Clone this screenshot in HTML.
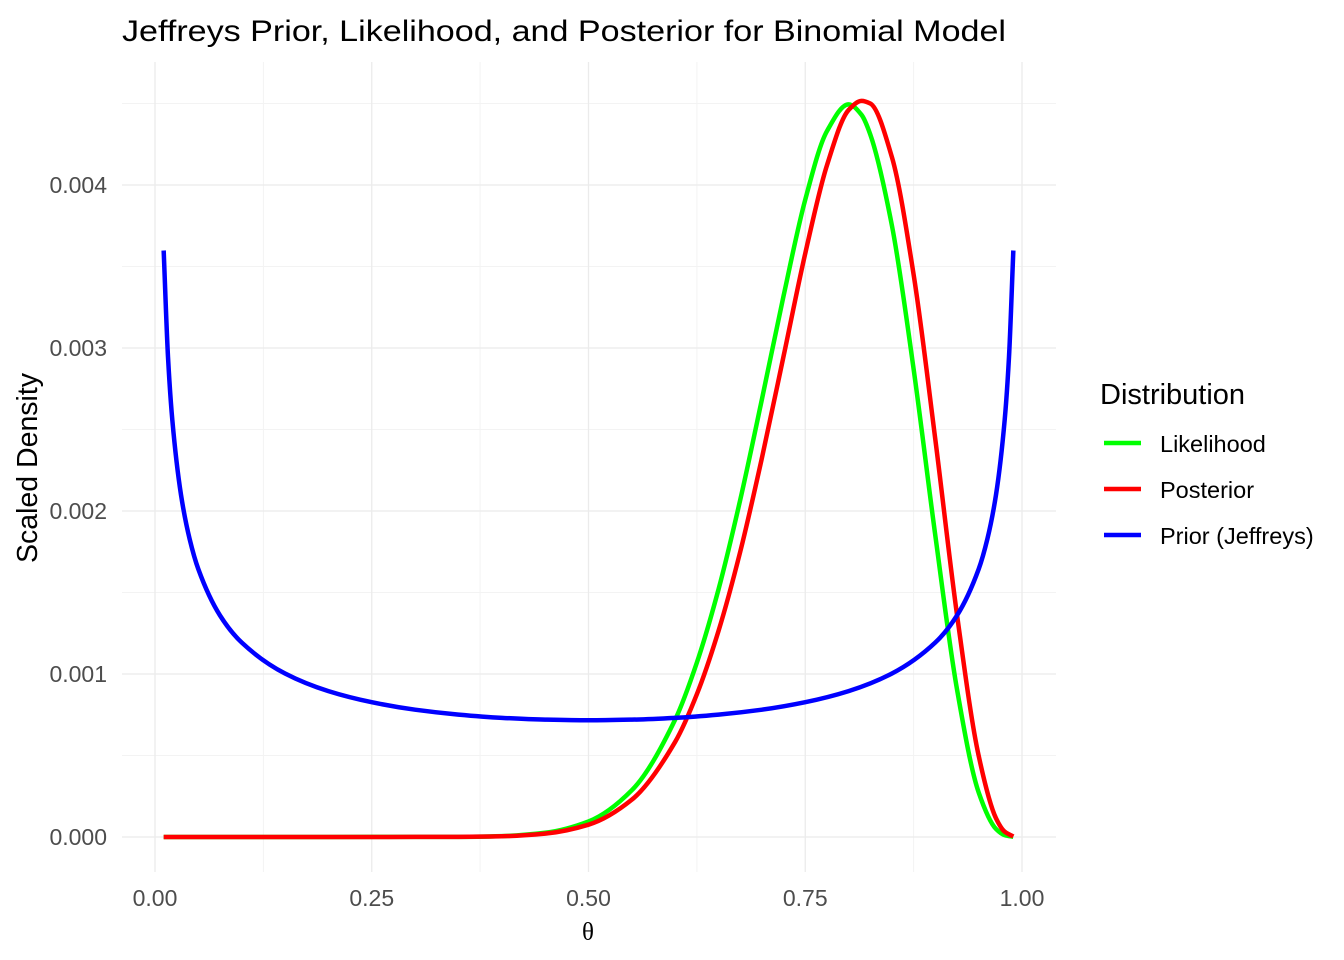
<!DOCTYPE html>
<html><head><meta charset="utf-8"><style>
html,body{margin:0;padding:0;background:#fff;}
svg{display:block;font-family:"Liberation Sans",Arial,sans-serif;}
</style></head><body>
<svg id="chart" width="1344" height="960" viewBox="0 0 1344 960">
<text x="122" y="41" font-size="30" fill="#000" textLength="884" lengthAdjust="spacingAndGlyphs">Jeffreys Prior, Likelihood, and Posterior for Binomial Model</text>
<g id="grid"></g>
<g id="series"></g>
<g id="axes"></g>
<text transform="translate(37,468) rotate(-90)" text-anchor="middle" font-size="28.5" fill="#000">Scaled Density</text>
<text x="588" y="940" text-anchor="middle" font-size="25" fill="#000" font-family="'Liberation Serif',serif">θ</text>
<g>
<text x="1100" y="404" font-size="29" fill="#000">Distribution</text>
<g><line x1="1104" y1="443" x2="1141" y2="443" stroke="#00ff00" stroke-width="4.5"/><text x="1160" y="452" font-size="23.5" fill="#000">Likelihood</text></g>
<g><line x1="1104" y1="489" x2="1141" y2="489" stroke="#ff0000" stroke-width="4.5"/><text x="1160" y="498" font-size="23.5" fill="#000">Posterior</text></g>
<g><line x1="1104" y1="535" x2="1141" y2="535" stroke="#0000ff" stroke-width="4.5"/><text x="1160" y="544" font-size="23.5" fill="#000">Prior (Jeffreys)</text></g>
</g>
</svg>
<script>
const xTicks = [0, 0.25, 0.5, 0.75, 1];
const xTickLabels = ["0.00", "0.25", "0.50", "0.75", "1.00"];
const yTicks = [0, 0.001, 0.002, 0.003, 0.004];
const yTickLabels = ["0.000", "0.001", "0.002", "0.003", "0.004"];

const thetaLP = [0.01,0.1,0.2,0.3,0.35,0.4,0.45,0.5,0.55,0.6,0.625,0.65,0.675,0.7,0.725,0.75,0.775,0.8,0.815,0.825,0.85,0.875,0.9,0.925,0.95,0.97,0.98,0.99];
const likelihood = [0,0,0,0.000001,0.000001,0.0000056,0.0000258,0.0000952,0.000287,0.000721,0.00107,0.00152,0.002068,0.002685,0.00332,0.00391,0.00433,0.004495,0.00443,0.00431,0.00375,0.00287,0.00185,0.000907,0.000274,0.0000497,0.0000116,0.000001];
const posterior = [0,0,0,0.0000005,0.000001,0.0000045,0.0000206,0.0000755,0.000229,0.000584,0.000876,0.001265,0.00175,0.002325,0.00295,0.00358,0.00412,0.00446,0.004516,0.0045,0.00417,0.00345,0.00244,0.001365,0.000499,0.000115,0.0000327,0.0000034];

const thetaPrior = [0.01,0.015,0.02,0.03,0.04,0.05,0.075,0.1,0.15,0.2,0.25,0.3,0.35,0.4,0.45,0.5,0.55,0.6,0.65,0.7,0.75,0.8,0.85,0.9,0.925,0.95,0.96,0.97,0.98,0.985,0.99];
const prior = [0.003598,0.002945,0.002557,0.002099,0.001827,0.001643,0.001359,0.001193,0.001003,0.000895,0.000827,0.000781,0.000751,0.000731,0.00072,0.000716,0.00072,0.000731,0.000751,0.000781,0.000827,0.000895,0.001003,0.001193,0.001359,0.001643,0.001827,0.002099,0.002557,0.002945,0.003598];

const X0 = 155, X1 = 1022, Y0 = 837, PER = 163000;
const PL = 122, PR = 1056, PT = 62, PB = 872;
function sx(v){ return X0 + v*(X1-X0); }
function sy(v){ return Y0 - v*PER; }
const NS = "http://www.w3.org/2000/svg";
function mk(tag, attrs, parent){ const e=document.createElementNS(NS,tag); for(const k in attrs) e.setAttribute(k,attrs[k]); parent.appendChild(e); return e; }

const grid = document.getElementById('grid');
const axes = document.getElementById('axes');
for (let i=0;i<xTicks.length-1;i++){
  const m=(xTicks[i]+xTicks[i+1])/2;
  const l=mk('line',{x1:sx(m),x2:sx(m),y1:PT,y2:PB,stroke:'#f3f3f3','stroke-width':1},grid);
  
  
}
for (let i=0;i<yTicks.length;i++){
  const m=yTicks[i]+0.0005;
  const l=mk('line',{x1:PL,x2:PR,y1:sy(m),y2:sy(m),stroke:'#f3f3f3','stroke-width':1},grid);
  
  
}
xTicks.forEach((t,i)=>{
  const l=mk('line',{x1:sx(t),x2:sx(t),y1:PT,y2:PB,stroke:'#ebebeb','stroke-width':1.3},grid);
  
  
  const tx=mk('text',{x:sx(t),y:906,'text-anchor':'middle','font-size':23,fill:'#4d4d4d'},axes);
  tx.textContent=xTickLabels[i];
  
  
});
yTicks.forEach((t,i)=>{
  const l=mk('line',{x1:PL,x2:PR,y1:sy(t),y2:sy(t),stroke:'#ebebeb','stroke-width':1.3},grid);
  
  
  const tx=mk('text',{x:107,y:sy(t)+8,'text-anchor':'end','font-size':23,fill:'#4d4d4d'},axes);
  tx.textContent=yTickLabels[i];
  
  
});

// monotone cubic (Fritsch-Carlson) in x
function pathFor(xs, ys){
  const px = xs.map(sx), py = ys.map(sy), n = px.length;
  const d = [], m = new Array(n);
  for (let i=0;i<n-1;i++) d.push((py[i+1]-py[i])/(px[i+1]-px[i]));
  m[0]=d[0]; m[n-1]=d[n-2];
  for (let i=1;i<n-1;i++){
    if (d[i-1]*d[i] <= 0) m[i]=0;
    else {
      const h0=px[i]-px[i-1], h1=px[i+1]-px[i];
      const w1=2*h1+h0, w2=h1+2*h0;
      m[i]=(w1+w2)/(w1/d[i-1]+w2/d[i]);
    }
  }
  let s='M'+px[0]+','+py[0];
  for (let i=0;i<n-1;i++){
    const h=(px[i+1]-px[i])/3;
    s+=' C'+(px[i]+h)+','+(py[i]+m[i]*h)+' '+(px[i+1]-h)+','+(py[i+1]-m[i+1]*h)+' '+px[i+1]+','+py[i+1];
  }
  return s;
}
const series = document.getElementById('series');
const lk=mk('path',{d:pathFor(thetaLP,likelihood),fill:'none',stroke:'#00ff00','stroke-width':4.5,'stroke-linejoin':'round'},series);


const ps=mk('path',{d:pathFor(thetaLP,posterior),fill:'none',stroke:'#ff0000','stroke-width':4.5,'stroke-linejoin':'round'},series);


const pr=mk('path',{d:pathFor(thetaPrior,prior),fill:'none',stroke:'#0000ff','stroke-width':4.5,'stroke-linejoin':'round'},series);


</script>
</body></html>
